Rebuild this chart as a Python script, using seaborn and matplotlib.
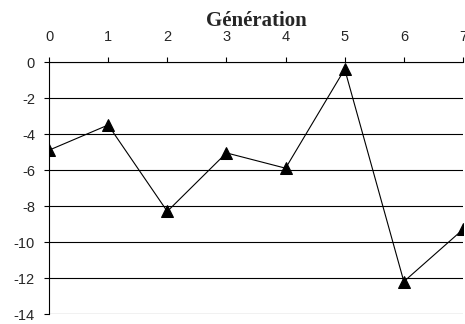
import pandas as pd
import matplotlib
matplotlib.use("Agg")
import matplotlib.pyplot as plt
import seaborn as sns

# Data
generations = [0, 1, 2, 3, 4, 5, 6, 7]
values = [-4.9, -3.5, -8.3, -5.05, -5.9, -0.4, -12.2, -9.3]
y_ticks = [0, -2, -4, -6, -8, -10, -12, -14]

df = pd.DataFrame({"Génération": generations, "valeur": values})

sns.set_style("white")
plt.rcParams["font.family"] = ["Liberation Sans", "DejaVu Sans"]

fig = plt.figure(figsize=(4.65, 3.24), dpi=100)
ax = fig.add_axes([49 / 465, 1 - 314 / 324, 414 / 465, 252 / 324])

for t in y_ticks:
    ax.axhline(t, color="black", lw=0.8, zorder=1)

sns.lineplot(data=df, x="Génération", y="valeur", ax=ax, color="black",
             lw=0.8, marker="^", markersize=8, markeredgecolor="black",
             zorder=3, clip_on=True)

ax.set_xlim(0, 7)
ax.set_ylim(-14, 0)
ax.set_xticks(generations)
ax.set_yticks(y_ticks)
ax.set_yticklabels([str(t) for t in y_ticks])
ax.xaxis.tick_top()
ax.xaxis.set_label_position("top")
ax.set_xlabel("Génération", fontsize=15, fontweight="bold",
              family=["Liberation Serif", "DejaVu Serif"], labelpad=3)
ax.set_ylabel("")
ax.tick_params(axis="both", direction="out", length=3.6, width=0.8,
               labelsize=10.5, color="black")
ax.tick_params(axis="x", top=True, bottom=False, pad=9.5)
ax.tick_params(axis="y", left=True, pad=6.5)

for side in ["right", "bottom"]:
    ax.spines[side].set_visible(False)
for side in ["left", "top"]:
    ax.spines[side].set_color("black")
    ax.spines[side].set_linewidth(0.8)

fig.savefig("out.png", dpi=100)
